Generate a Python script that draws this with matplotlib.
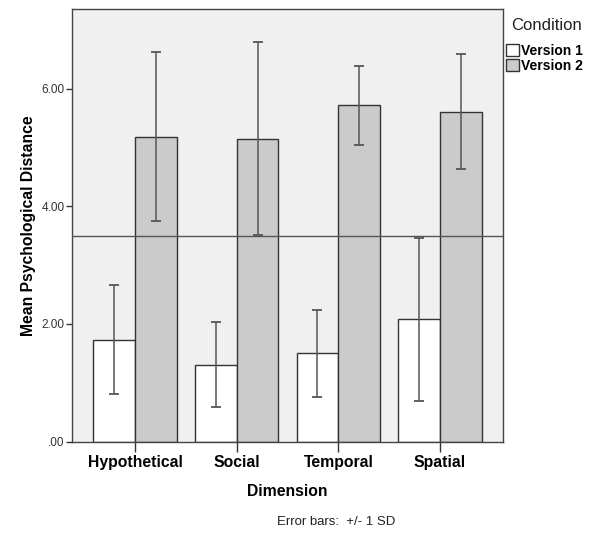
import matplotlib.pyplot as plt
import numpy as np
from matplotlib.ticker import FuncFormatter

plt.rcParams['font.family'] = ['Liberation Sans', 'DejaVu Sans']

# data
dimensions = ['Hypothetical', 'Social', 'Temporal', 'Spatial']
v1_mean = [1.73, 1.31, 1.50, 2.08]
v1_sd = [0.93, 0.72, 0.74, 1.39]
v2_mean = [5.19, 5.15, 5.72, 5.61]
v2_sd = [1.44, 1.64, 0.67, 0.98]
ref_line = 3.5

x = np.arange(len(dimensions))
w = 0.41

fig = plt.figure(figsize=(5.95, 5.33), dpi=100)
ax = fig.add_axes([72 / 595, 1 - 441.5 / 533, 431 / 595, 432.5 / 533])
ax.set_facecolor('#f0f0f0')

b1 = ax.bar(x - w / 2, v1_mean, w, color='white', edgecolor='#333333', linewidth=1, label='Version 1', zorder=2)
b2 = ax.bar(x + w / 2, v2_mean, w, color='#cbcbcb', edgecolor='#333333', linewidth=1, label='Version 2', zorder=2)

ax.errorbar(x - w / 2, v1_mean, yerr=v1_sd, fmt='none', ecolor='#555555', elinewidth=1.1, capsize=3.6, capthick=1.3, zorder=3)
ax.errorbar(x + w / 2, v2_mean, yerr=v2_sd, fmt='none', ecolor='#555555', elinewidth=1.1, capsize=3.6, capthick=1.3, zorder=3)

ax.axhline(ref_line, color='#555555', linewidth=1, zorder=4)

ax.set_xlim(-0.62, 3.62)
ax.set_ylim(0, 7.36)
ax.set_yticks([0, 2, 4, 6])
ax.yaxis.set_major_formatter(FuncFormatter(lambda v, p: f"{v:.2f}".lstrip('0') if v < 1 else f"{v:.2f}"))
ax.set_xticks(x)
ax.set_xticklabels(dimensions, fontweight='bold', fontsize=11.3)
ax.tick_params(axis='x', direction='out', length=7, width=1, color='#333333', pad=3)
ax.tick_params(axis='y', direction='out', length=4.5, width=1, color='#333333', pad=1, labelsize=8.5, labelcolor='#333333')

for s in ax.spines.values():
    s.set_color('#444444')
    s.set_linewidth(1)

ax.set_xlabel('Dimension', fontweight='bold', fontsize=11.3, labelpad=10)
ax.set_ylabel('Mean Psychological Distance', fontweight='bold', fontsize=11.3, labelpad=4)

fig.text(336.5 / 595, 1 - 522 / 533, 'Error bars:  +/- 1 SD', ha='center', va='center', fontsize=9.5, color='#222222')

# legend: title as separate text so the gap below it matches
fig.text(511 / 595, 1 - 26 / 533, 'Condition', ha='left', va='center', fontsize=12, color='#222222')
leg = fig.legend(handles=[b1, b2], loc='upper left', bbox_to_anchor=(506 / 595, 1 - 44 / 533),
                 frameon=False, fontsize=10,
                 handlelength=0.95, handleheight=0.95, handletextpad=0.15, labelspacing=0.05,
                 borderpad=0, borderaxespad=0)
for t in leg.get_texts():
    t.set_fontweight('bold')

fig.savefig('out.png', dpi=100)
